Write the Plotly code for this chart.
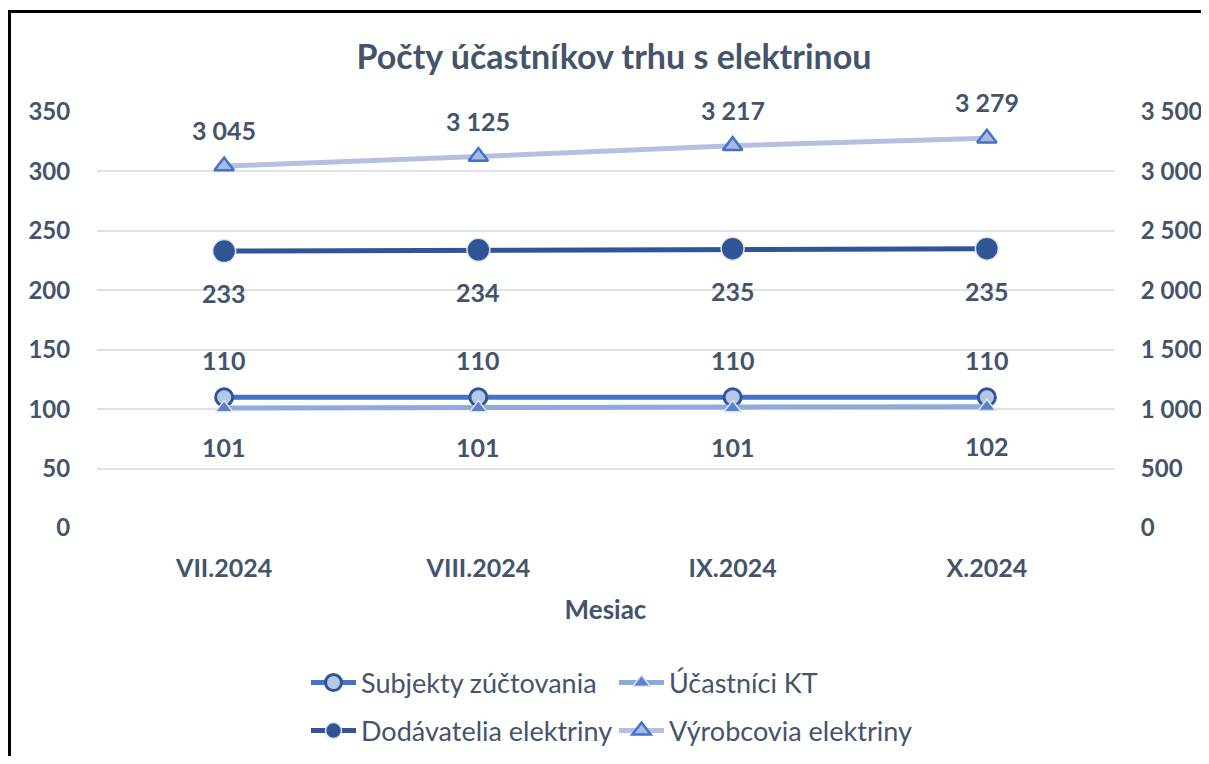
import plotly.graph_objects as go

months = ["VII.2024", "VIII.2024", "IX.2024", "X.2024"]
subjekty = [110, 110, 110, 110]
ucastnici = [101, 101, 101, 102]
dodavatelia = [233, 234, 235, 235]
vyrobcovia = [3045, 3125, 3217, 3279]

left_ticks = [0, 50, 100, 150, 200, 250, 300, 350]
right_ticks = [0, 500, 1000, 1500, 2000, 2500, 3000, 3500]

TXT = "#44546A"
FONT = "Lato"

W, H = 1193, 748
L, R, T, B = 89, 87, 104, 228
PW = W - L - R
PH = H - T - B

fig = go.Figure()

fig.add_trace(go.Scatter(
    x=months, y=subjekty, name="Subjekty zúčtovania", mode="lines+markers",
    line=dict(color="#4472C4", width=5),
    marker=dict(symbol="circle", size=17, color="#B4C7E7", line=dict(color="#2F5597", width=3)),
    legend="legend",
))
fig.add_trace(go.Scatter(
    x=months, y=ucastnici, name="Účastníci KT", mode="lines+markers",
    line=dict(color="#8EA9DB", width=5),
    marker=dict(symbol="triangle-up", size=15, color="#5B80CC", line=dict(color="#DDE3EE", width=1.5)),
    legend="legend",
))
fig.add_trace(go.Scatter(
    x=months, y=dodavatelia, name="Dodávatelia elektriny", mode="lines+markers",
    line=dict(color="#2F5597", width=5),
    marker=dict(symbol="circle", size=23, color="#2F5597", line=dict(color="#E3E6EC", width=1.5)),
    legend="legend2",
))
fig.add_trace(go.Scatter(
    x=months, y=vyrobcovia, name="Výrobcovia elektriny", mode="lines+markers",
    line=dict(color="#B4C0E2", width=5),
    marker=dict(symbol="triangle-up", size=17, color="#A9B9E2", line=dict(color="#4472C4", width=2.5)),
    yaxis="y2", legend="legend2",
))

annotations = []
lab_font = dict(family=FONT, size=25, color=TXT, weight="bold")
for xs, ys, shift, yref in [(months, subjekty, 37, "y"), (months, ucastnici, -39, "y"),
                            (months, dodavatelia, -42, "y"), (months, vyrobcovia, 36, "y2")]:
    for xv, yv in zip(xs, ys):
        annotations.append(dict(
            x=xv, y=yv, xref="x", yref=yref, text=f"{yv:,}".replace(",", " "),
            showarrow=False, yshift=shift, font=lab_font,
        ))

tick_font = dict(family=FONT, size=24, color=TXT, weight="bold")
leg_common = dict(orientation="h", xref="container", yref="container",
                  x=298 / W, xanchor="left", yanchor="middle",
                  entrywidth=248, entrywidthmode="pixels", itemwidth=45,
                  font=dict(family=FONT, size=27, color=TXT), bgcolor="rgba(0,0,0,0)")

fig.update_layout(
    width=W, height=H,
    margin=dict(l=L, r=R, t=T, b=B, autoexpand=False),
    paper_bgcolor="white", plot_bgcolor="white",
    separators=", ",
    font=dict(family=FONT, color=TXT),
    title=dict(text="Počty účastníkov trhu s elektrinou", x=606 / W, xanchor="center",
               y=1 - 49 / H, yanchor="middle", yref="container",
               font=dict(family=FONT, size=34, color=TXT, weight="bold")),
    xaxis=dict(range=[-0.5, 3.5], showgrid=False, zeroline=False, showline=False,
               ticks="outside", ticklen=18, tickcolor="rgba(0,0,0,0)",
               tickfont=dict(family=FONT, size=25, color=TXT, weight="bold"),
               title=dict(text="Mesiac", standoff=19,
                          font=dict(family=FONT, size=26, color=TXT, weight="bold"))),
    yaxis=dict(range=[0, 350], tickvals=left_ticks, showgrid=True, gridcolor="#DDE1E8", gridwidth=2,
               zeroline=False, showline=False, ticks="outside", ticklen=21, tickcolor="rgba(0,0,0,0)",
               tickfont=tick_font),
    yaxis2=dict(range=[0, 3500], tickvals=right_ticks, overlaying="y", side="right", showgrid=False,
                zeroline=False, showline=False, ticks="outside", ticklen=21, tickcolor="rgba(0,0,0,0)",
                tickformat=",d", tickfont=tick_font),
    legend=dict(leg_common, y=1 - 675 / H),
    legend2=dict(leg_common, y=1 - 723 / H),
    annotations=annotations,
    shapes=[dict(type="rect", xref="paper", yref="paper",
                 x0=(1.5 - L) / PW, x1=1.3, y0=(520 - 3.5) / PH, y1=-1.0,
                 line=dict(color="black", width=3), fillcolor="rgba(0,0,0,0)", layer="above")],
    showlegend=True,
)

fig.write_html("out.html")
